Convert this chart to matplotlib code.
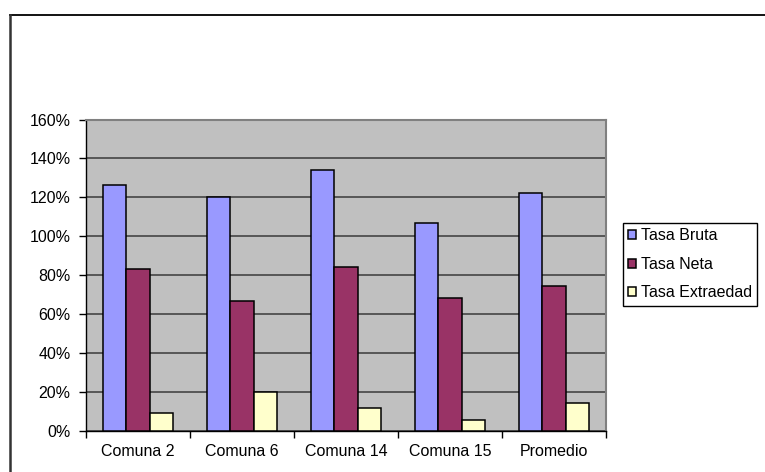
import numpy as np
import matplotlib.pyplot as plt
from matplotlib.lines import Line2D
from matplotlib.ticker import FuncFormatter

plt.rcParams['font.family'] = ['Liberation Sans', 'DejaVu Sans']

comunas = ['Comuna 2', 'Comuna 6', 'Comuna 14', 'Comuna 15', 'Promedio']
tasa_bruta = [126.5, 120, 134, 107, 122]
tasa_neta = [83.3, 67, 84, 68.5, 74.5]
tasa_extraedad = [9.5, 20, 12, 5.5, 14.5]

series = [('Tasa Bruta', tasa_bruta, '#9999FF'),
          ('Tasa Neta', tasa_neta, '#993366'),
          ('Tasa Extraedad', tasa_extraedad, '#FFFFCC')]

fig = plt.figure(figsize=(7.65, 4.72), dpi=100)
ax = fig.add_axes([86/765, 41/472, 520/765, 311.5/472])
ax.set_facecolor('#C0C0C0')

x = np.arange(len(comunas))
w = 0.225
for i, (name, vals, col) in enumerate(series):
    ax.bar(x + (i-1)*w, vals, w, color=col, edgecolor='black', linewidth=1.1,
           label=name, zorder=3)

ax.set_xlim(-0.5, len(comunas)-0.5)
ax.set_ylim(0, 160)
ax.set_yticks(np.arange(0, 161, 20))
ax.yaxis.set_major_formatter(FuncFormatter(lambda v, p: '%d%%' % v))
ax.grid(axis='y', color='#3a3a3a', linewidth=1.1, zorder=1)

ax.set_xticks(x)
ax.set_xticklabels(comunas)
ax.set_xticks(np.arange(-0.5, len(comunas)), minor=True)
ax.tick_params(axis='x', which='major', length=0, pad=9, labelsize=11.5)
ax.tick_params(axis='x', which='minor', length=5, width=1, direction='out')
ax.tick_params(axis='y', length=5, width=1, direction='out', pad=6, labelsize=11.5)

for s in ['top', 'right']:
    ax.spines[s].set_color('#808080')
    ax.spines[s].set_linewidth(1.5)
for s in ['left', 'bottom']:
    ax.spines[s].set_color('black')
    ax.spines[s].set_linewidth(1)

leg = fig.legend(loc='upper left', bbox_to_anchor=(623/765, 1-223/472),
                 fontsize=11.5, fancybox=False, framealpha=1, edgecolor='black',
                 handlelength=0.5, handleheight=0.5, handletextpad=0.3,
                 labelspacing=0.85, borderpad=0.33, borderaxespad=0)
leg.get_frame().set_linewidth(1)

fig.add_artist(Line2D([9.5/765, 1], [1-14.5/472, 1-14.5/472], color='black', linewidth=1.3))
fig.add_artist(Line2D([9.5/765, 9.5/765], [0, 1-14.5/472], color='#333333', linewidth=1.8))

fig.savefig('out.png', dpi=100)
